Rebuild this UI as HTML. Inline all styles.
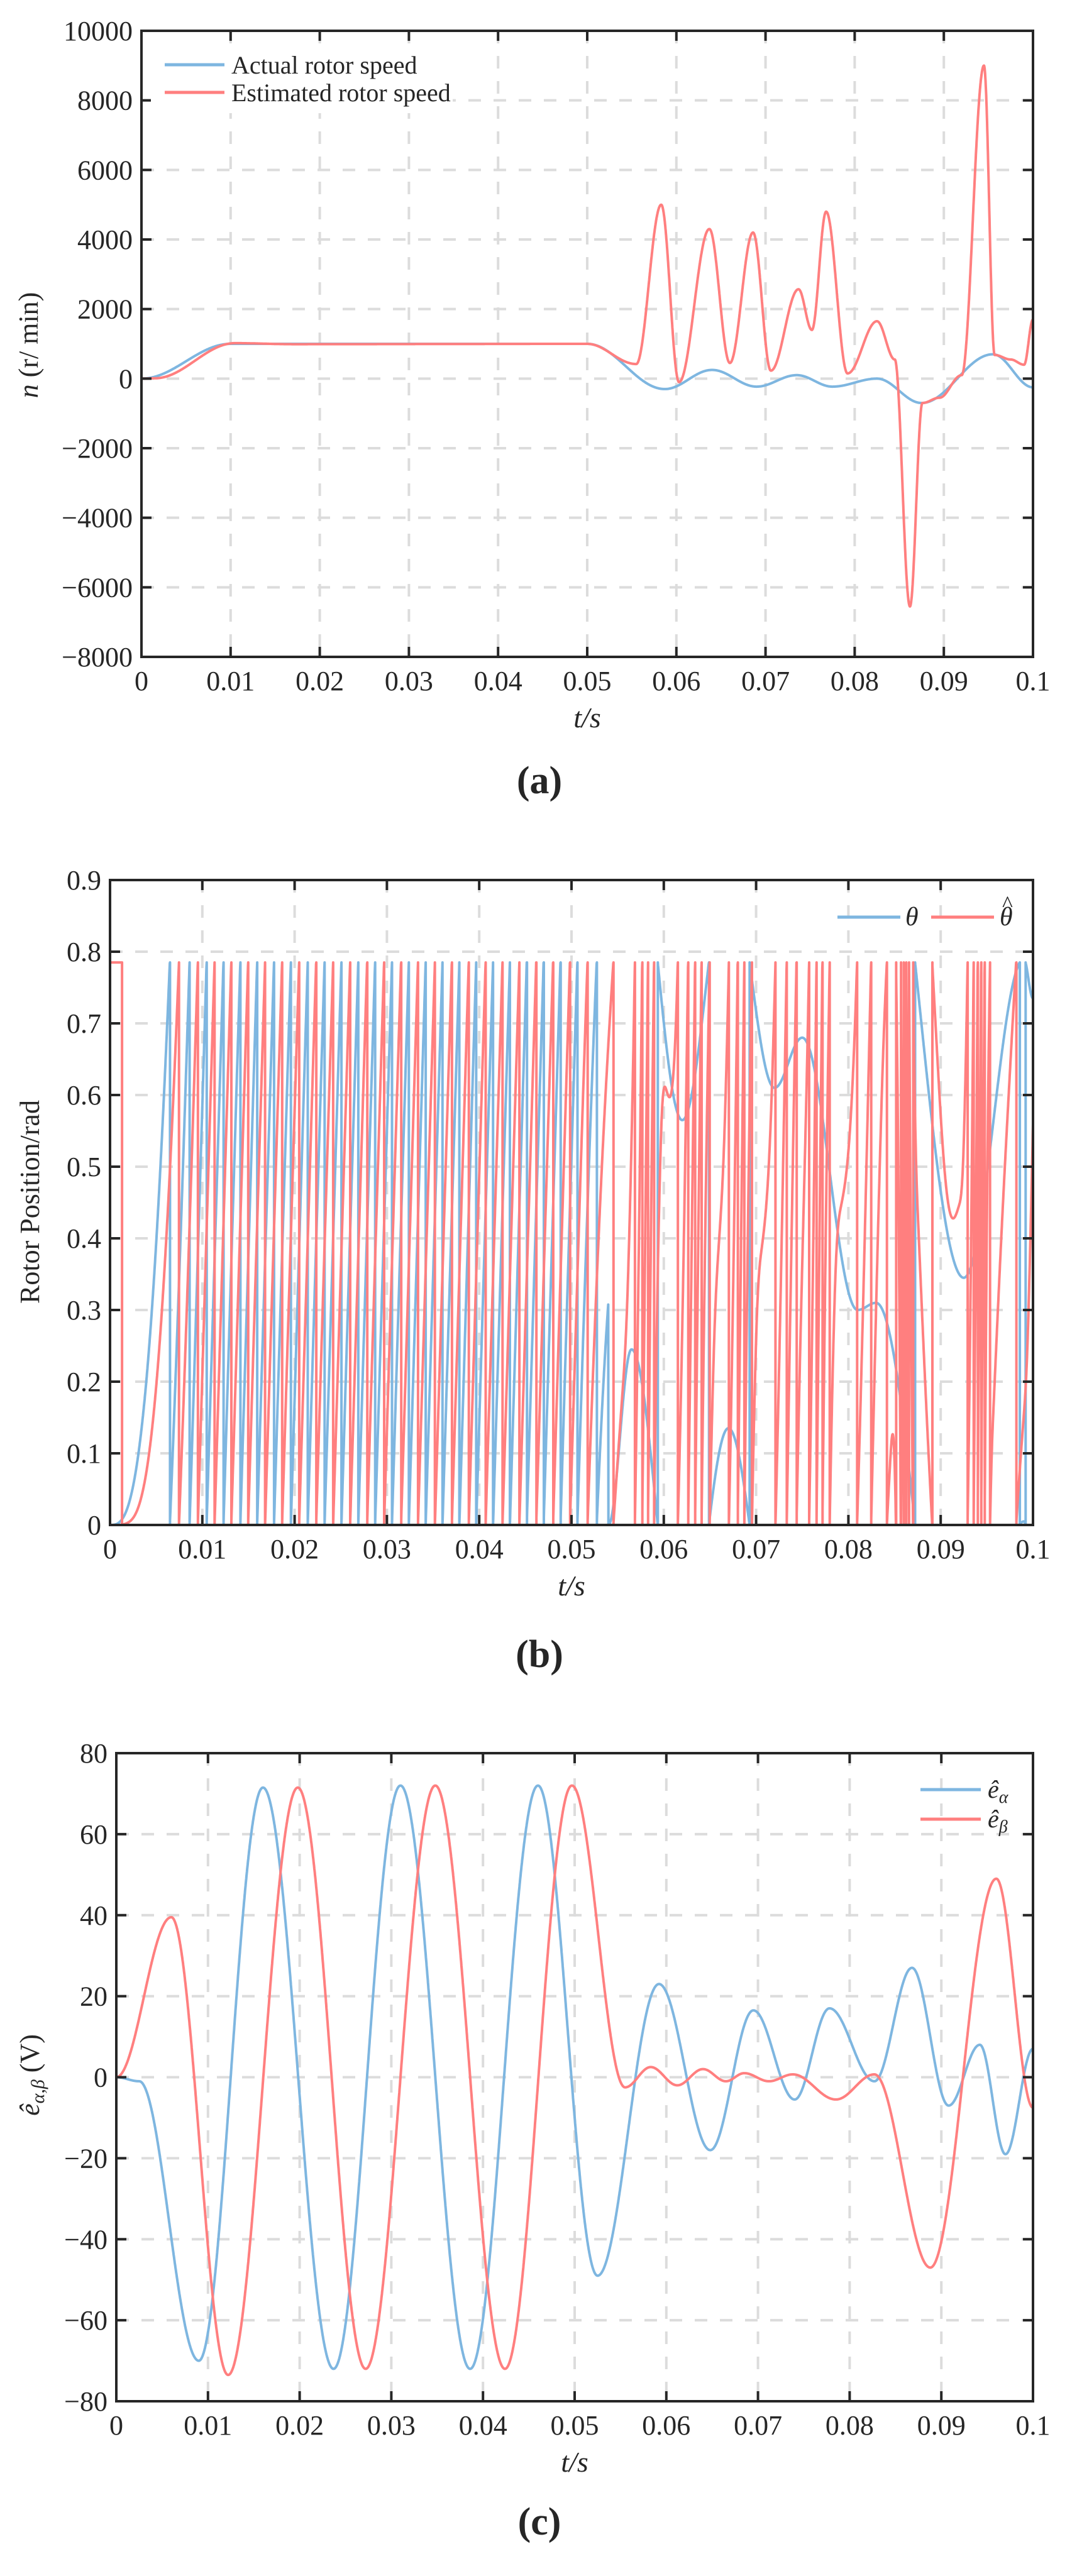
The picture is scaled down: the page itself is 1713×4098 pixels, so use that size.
<!DOCTYPE html>
<html><head><meta charset="utf-8"><style>
html,body{margin:0;padding:0;background:#fff;}
svg{display:block;}
text{font-family:"Liberation Serif",serif;fill:#262626;}
</style></head><body>
<svg id="s" width="1713" height="4098" xmlns="http://www.w3.org/2000/svg"></svg>
<script>
const S=document.getElementById('s');
const NS='http://www.w3.org/2000/svg';
function el(n,a,t){const e=document.createElementNS(NS,n);for(const k in a)e.setAttribute(k,a[k]);if(t!==undefined)e.textContent=t;S.appendChild(e);return e;}
function interp(kp,t){
  if(t<=kp[0][0])return kp[0][1];
  for(let i=0;i<kp.length-1;i++){const a=kp[i],b=kp[i+1];
    if(t<=b[0]){const u=(t-a[0])/(b[0]-a[0]);const w=(1-Math.cos(Math.PI*u))/2;return a[1]+(b[1]-a[1])*w;}}
  return kp[kp.length-1][1];
}
const BLUE='#7EB6E0',RED='#FF7F7F';
function axes(P){
  const X=t=>P.x0+(P.x1-P.x0)*t/0.1;
  const Y=v=>P.y1-(P.y1-P.y0)*(v-P.ymin)/(P.ymax-P.ymin);
  P.X=X;P.Y=Y;
  for(let i=1;i<10;i++){const x=X(i*0.01);el('line',{x1:x,y1:P.y0,x2:x,y2:P.y1,stroke:'#dcdcdc','stroke-width':4,'stroke-dasharray':'20 20'});}
  P.yt.forEach(v=>{const y=Y(v);if(v!=P.ymin&&v!=P.ymax)el('line',{x1:P.x0,y1:y,x2:P.x1,y2:y,stroke:'#dcdcdc','stroke-width':4,'stroke-dasharray':'20 20'});});
}
function frame(P){
  const X=P.X,Y=P.Y;
  el('rect',{x:P.x0,y:P.y0,width:P.x1-P.x0,height:P.y1-P.y0,fill:'none',stroke:'#262626','stroke-width':4});
  for(let i=0;i<=10;i++){const x=X(i*0.01);
    el('line',{x1:x,y1:P.y1,x2:x,y2:P.y1-16,stroke:'#262626','stroke-width':4});
    el('line',{x1:x,y1:P.y0,x2:x,y2:P.y0+16,stroke:'#262626','stroke-width':4});
    el('text',{x:x,y:P.y1+53,'font-size':44,'text-anchor':'middle'},i==0?'0':(i==10?'0.1':'0.0'+i));}
  P.yt.forEach(v=>{const y=Y(v);
    el('line',{x1:P.x0,y1:y,x2:P.x0+16,y2:y,stroke:'#262626','stroke-width':4});
    el('line',{x1:P.x1,y1:y,x2:P.x1-16,y2:y,stroke:'#262626','stroke-width':4});
    el('text',{x:P.x0-14,y:y+15,'font-size':44,'text-anchor':'end'},P.fmt(v));});
  el('text',{x:(P.x0+P.x1)/2,y:P.y1+112,'font-size':46,'text-anchor':'middle','font-style':'italic'},'t/s');
}
function line(P,pts,c){
  let d='';pts.forEach((p,i)=>{d+=(i?'L':'M')+P.X(p[0]).toFixed(1)+' '+P.Y(p[1]).toFixed(1);});
  el('path',{d:d,fill:'none',stroke:c,'stroke-width':4,'stroke-linejoin':'round'});
}
const N=4000;
// ---------- (a)
const ka=[[0,0],[0.01,1000],[0.05,1000],[0.0587,-300],[0.064,250],[0.069,-230],[0.0735,100],[0.0775,-230],[0.0825,0],[0.0875,-700],[0.0955,700],[0.1,-250]];
const kr=[[0,0],[0.0015,10],[0.0105,1020],[0.017,990],[0.05,1000],[0.0555,420],[0.0583,5000],[0.0603,-100],[0.0637,4300],[0.066,450],[0.0686,4200],[0.0706,230],[0.0737,2570],[0.0752,1400],[0.0768,4800],[0.0792,150],[0.0825,1650],[0.0845,550],[0.0862,-6550],[0.0876,-700],[0.0895,-550],[0.092,100],[0.0945,9000],[0.0957,680],[0.0975,550],[0.099,400],[0.1,1700]];
const Pa={x0:225,x1:1643,y0:49,y1:1045,ymin:-8000,ymax:10000,yt:[-8000,-6000,-4000,-2000,0,2000,4000,6000,8000,10000],fmt:v=>v<0?'\u2212'+(-v):''+v};
axes(Pa);
const A=[],R=[];
for(let i=0;i<=N;i++){const t=0.1*i/N;A.push([t,interp(ka,t)]);R.push([t,interp(kr,t)]);}
line(Pa,A,BLUE);line(Pa,R,RED);
frame(Pa);
el('rect',{x:240,y:70,width:480,height:110,fill:'#fff'});
el('line',{x1:262,y1:103,x2:357,y2:103,stroke:BLUE,'stroke-width':5});
el('line',{x1:262,y1:147,x2:357,y2:147,stroke:RED,'stroke-width':5});
el('text',{x:368,y:117,'font-size':40,fill:'#000'},'Actual rotor speed');
el('text',{x:368,y:161,'font-size':40,fill:'#000'},'Estimated rotor speed');
el('text',{x:60,y:549,'font-size':44,'text-anchor':'middle',transform:'rotate(-90 60 549)'}).innerHTML='<tspan font-style="italic">n</tspan> (r/ min)';
el('text',{x:858,y:1262,'font-size':62,'font-weight':'bold','text-anchor':'middle',fill:'#000'},'(a)');
// ---------- (b)
const Pb={x0:175,x1:1643,y0:1400,y1:2426,ymin:0,ymax:0.9,yt:[0,0.1,0.2,0.3,0.4,0.5,0.6,0.7,0.8,0.9],fmt:v=>v==0?'0':v.toFixed(1)};
axes(Pb);
const M=0.785,k=0.43;
function wrap(v){return ((v%M)+M)%M;}
const kpb=[[0.054,0],[0.0565,0.245],[0.062,-0.22],[0.067,0.135],[0.072,-0.175],[0.075,-0.105],[0.081,-0.485],[0.083,-0.475],[0.0925,-1.225],[0.099,-0.78],[0.1,-0.835]];
function rf(n){return n>1000?1000+(n-1000)*0.5:n;}
let ang=0,angr=0;const B=[],RB=[[0,0],[0,0.785],[0.0013,0.785],[0.0013,0]];
const dt=0.1/N;let prevb=null,prevr=null;
for(let i=0;i<=N;i++){const t=dt*i;
  let wb;
  if(t<0.054){if(i>0)ang+=k*interp(ka,t)*dt;wb=wrap(ang);}
  else{const v=interp(kpb,t);wb=(v===0)?0:wrap(v+M*10);}
  if(prevb!==null&&Math.abs(wb-prevb)>0.4){B.push([t,wb>prevb?0:M]);B.push([t,wb>prevb?M:0]);}
  B.push([t,wb]);prevb=wb;
  if(t>0.0013){angr+=k*rf(interp(kr,t))*dt;const wr=wrap(angr);
    if(prevr!==null&&Math.abs(wr-prevr)>0.4){RB.push([t,wr>prevr?0:M]);RB.push([t,wr>prevr?M:0]);}
    RB.push([t,wr]);prevr=wr;}
}
line(Pb,B,BLUE);line(Pb,RB,RED);
frame(Pb);
el('line',{x1:1332,y1:1459,x2:1432,y2:1459,stroke:BLUE,'stroke-width':5});
el('line',{x1:1481,y1:1459,x2:1581,y2:1459,stroke:RED,'stroke-width':5});
el('text',{x:1440,y:1472,'font-size':42,'font-style':'italic',fill:'#000'},'θ');
el('text',{x:1590,y:1472,'font-size':42,'font-style':'italic',fill:'#000'},'θ');
el('text',{x:1594,y:1450,'font-size':36,fill:'#000'},'^');
el('text',{x:62,y:1912,'font-size':44,'text-anchor':'middle',transform:'rotate(-90 62 1912)'},'Rotor Position/rad');
el('text',{x:858,y:2652,'font-size':62,'font-weight':'bold','text-anchor':'middle',fill:'#000'},'(b)');
// ---------- (c)
const kea=[[0,0],[0.0025,-1],[0.009,-70],[0.016,71.5],[0.0237,-72],[0.031,72],[0.0386,-72],[0.046,72],[0.0525,-49],[0.0592,23],[0.0648,-18],[0.0695,16.5],[0.074,-5.5],[0.0778,17],[0.0827,-1],[0.0868,27],[0.0908,-7],[0.0942,8],[0.097,-19],[0.1,7]];
const keb=[[0,0],[0.006,39.5],[0.0122,-73.5],[0.0198,71.5],[0.0272,-72],[0.0348,72],[0.0424,-72],[0.0497,72],[0.0555,-2.5],[0.0583,2.5],[0.0612,-2],[0.064,2],[0.0665,-1],[0.0685,1],[0.0712,-1],[0.0738,0.7],[0.0785,-5.5],[0.0827,0.7],[0.0888,-47],[0.096,49],[0.1,-7.5]];
const Pc={x0:185,x1:1643,y0:2789,y1:3820,ymin:-80,ymax:80,yt:[-80,-60,-40,-20,0,20,40,60,80],fmt:v=>v<0?'\u2212'+(-v):''+v};
axes(Pc);
const CA=[],CB=[];
for(let i=0;i<=N;i++){const t=0.1*i/N;CA.push([t,interp(kea,t)]);CB.push([t,interp(keb,t)]);}
line(Pc,CA,BLUE);line(Pc,CB,RED);
frame(Pc);
el('line',{x1:1464,y1:2847,x2:1560,y2:2847,stroke:BLUE,'stroke-width':5});
el('line',{x1:1464,y1:2894,x2:1560,y2:2894,stroke:RED,'stroke-width':5});
el('text',{x:1571,y:2860,'font-size':40,'font-style':'italic',fill:'#000'}).innerHTML='ê<tspan font-size="28" dy="8">α</tspan>';
el('text',{x:1571,y:2907,'font-size':40,'font-style':'italic',fill:'#000'}).innerHTML='ê<tspan font-size="28" dy="8">β</tspan>';
el('text',{x:62,y:3301,'font-size':44,'text-anchor':'middle',transform:'rotate(-90 62 3301)'}).innerHTML='<tspan font-style="italic">ê</tspan><tspan font-size="30" dy="8" font-style="italic">α,β</tspan><tspan dy="-8"> (V)</tspan>';
el('text',{x:858,y:4032,'font-size':62,'font-weight':'bold','text-anchor':'middle',fill:'#000'},'(c)');
</script>
</body></html>
